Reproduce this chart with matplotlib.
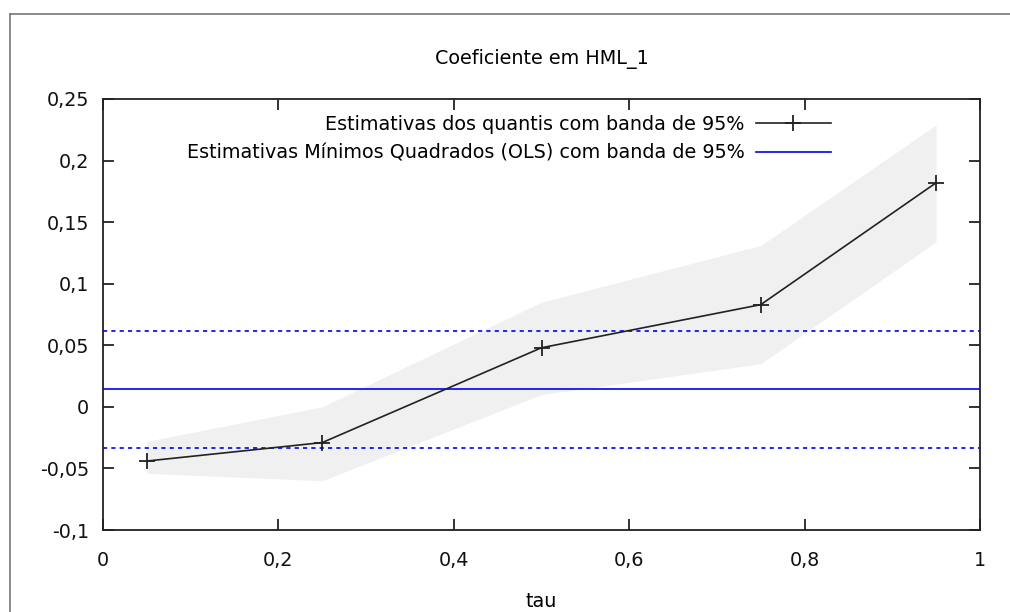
import numpy as np
import matplotlib.pyplot as plt
from matplotlib.ticker import FuncFormatter
from matplotlib.lines import Line2D

# Data
tau = [0.05, 0.25, 0.50, 0.75, 0.95]
coef = [-0.044, -0.029, 0.048, 0.083, 0.182]
band_lo = [-0.054, -0.060, 0.010, 0.035, 0.134]
band_hi = [-0.028, 0.000, 0.085, 0.131, 0.229]
ols = 0.0145
ols_lo = -0.0334
ols_hi = 0.0616

xticks = [0, 0.2, 0.4, 0.6, 0.8, 1.0]
yticks = [-0.1, -0.05, 0, 0.05, 0.1, 0.15, 0.2, 0.25]

FS = 13.8

fig = plt.figure(figsize=(10.1, 6.12), dpi=100)
ax = fig.add_axes([103/1010, 82/612, 877/1010, 431/612])

# Gray outer frame (left and top edges visible)
fig.add_artist(Line2D([10/1010, 10/1010], [0, 1 - 14/612], color='#777777', lw=1.2))
fig.add_artist(Line2D([10/1010, 1], [1 - 14/612, 1 - 14/612], color='#777777', lw=1.2))

ax.fill_between(tau, band_lo, band_hi, color='#f0f0f0', lw=0, zorder=1)
ax.plot(tau, coef, color='#222222', lw=1.2, marker='+', ms=11, mew=1.3,
        label='Estimativas dos quantis com banda de 95%', zorder=3)
ax.axhline(ols, color='#0000ee', lw=1.2,
           label='Estimativas Mínimos Quadrados (OLS) com banda de 95%', zorder=2)
ax.axhline(ols_lo, color='#0000ee', lw=1.2, ls=(0, (2.5, 2.5)), zorder=2)
ax.axhline(ols_hi, color='#0000ee', lw=1.2, ls=(0, (2.5, 2.5)), zorder=2)

ax.set_xlim(0, 1)
ax.set_ylim(-0.1, 0.25)
ax.set_xticks(xticks)
ax.set_yticks(yticks)

comma = FuncFormatter(lambda v, p: f'{round(v, 4):g}'.replace('.', ','))
ax.xaxis.set_major_formatter(comma)
ax.yaxis.set_major_formatter(comma)

ax.tick_params(direction='in', length=8, width=1.2, top=True, right=True,
               labelsize=FS, colors='#111111')
ax.tick_params(axis='x', pad=15)
ax.tick_params(axis='y', pad=10)
for s in ax.spines.values():
    s.set_linewidth(1.3)
    s.set_color('#222222')

ax.set_title('Coeficiente em HML_1', fontsize=FS, pad=25)
ax.set_xlabel('tau', fontsize=FS, labelpad=16)

leg = ax.legend(loc='upper right', bbox_to_anchor=(0.834, 0.972), frameon=False,
                markerfirst=False, fontsize=FS, handlelength=3.9, handletextpad=0.6,
                labelspacing=0.5, borderaxespad=0.0, borderpad=0.2)
for t in leg.get_texts():
    t.set_ha('right')
leg._legend_box.align = 'right'

plt.savefig('out.png', dpi=100)
